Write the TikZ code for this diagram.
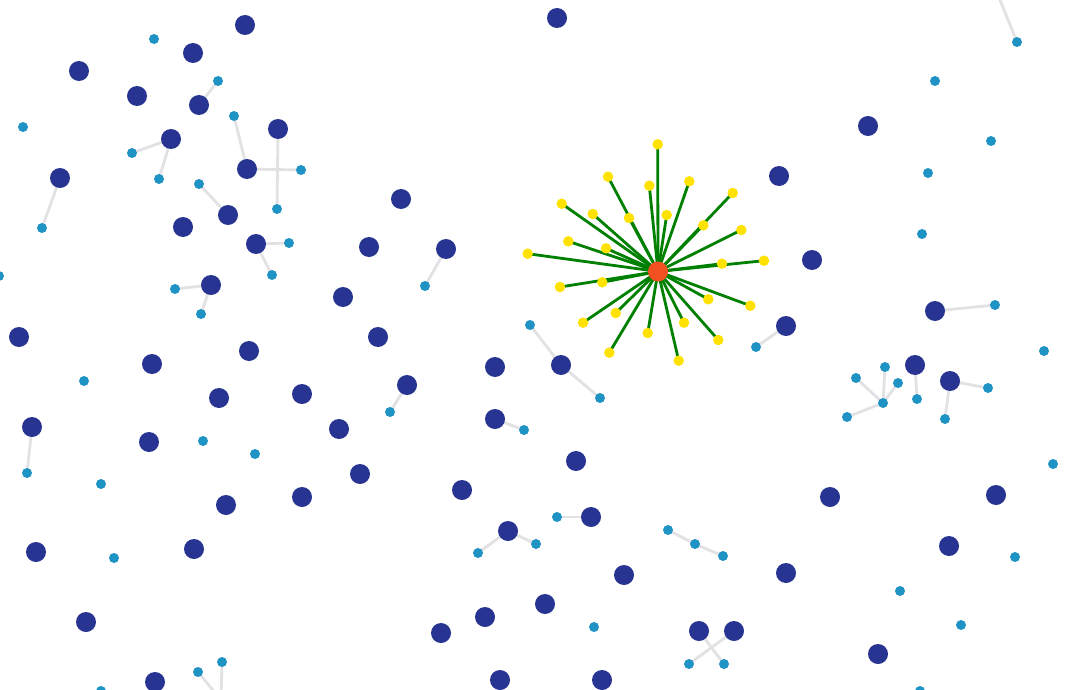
\documentclass[tikz,border=0pt]{standalone}
\usetikzlibrary{backgrounds}
\definecolor{navy}{RGB}{40,52,146}
\definecolor{sky}{RGB}{31,147,196}
\definecolor{sun}{RGB}{255,226,0}
\definecolor{hub}{RGB}{244,81,34}
\definecolor{link}{RGB}{226,226,229}
\definecolor{spoke}{RGB}{0,128,0}
\begin{document}
\begin{tikzpicture}[x=1pt,y=-1pt,
  dk/.style={circle,fill=navy,inner sep=0pt,minimum size=20pt},
  lt/.style={circle,fill=sky,inner sep=0pt,minimum size=10pt},
  yl/.style={circle,fill=sun,inner sep=0pt,minimum size=10.5pt},
  hb/.style={circle,fill=hub,inner sep=0pt,minimum size=20pt},
  gl/.style={draw=link,line width=2.8pt},
  sp/.style={draw=spoke,line width=2.8pt}]
\useasboundingbox (0,0) rectangle (1073,690);
% dark nodes
\foreach \n/\x/\y in {1/245/25,2/193/53,3/79/71,4/137/96,5/199/105,6/171/139,7/278/129,8/60/178,9/247/169,10/228/215,
  11/183/227,12/256/244,13/211/285,14/19/337,15/152/364,16/249/351,17/219/398,18/302/394,19/32/427,20/149/442,
  21/339/429,22/226/505,23/302/497,24/360/474,25/36/552,26/194/549,27/86/622,28/155/682,29/401/199,30/369/247,
  31/343/297,32/378/337,33/446/249,34/407/385,35/557/18,36/495/367,37/561/365,38/495/419,39/576/461,40/462/490,
  41/508/531,42/591/517,43/624/575,44/545/604,45/485/617,46/441/633,47/500/680,48/602/680,49/699/631,50/734/631,
  51/786/573,52/830/497,53/779/176,54/868/126,55/812/260,56/786/326,57/935/311,58/915/365,59/950/381,60/996/495,
  61/949/546,62/878/654}
  \node[dk] (d\n) at (\x,\y) {};
% light nodes
\foreach \n/\x/\y in {1/154/39,2/218/81,3/23/127,4/234/116,5/132/153,6/159/179,7/301/170,8/277/209,9/199/184,10/42/228,
  11/289/243,12/272/275,13/175/289,14/201/314,15/-1/276,16/84/381,17/203/441,18/255/454,19/27/473,20/101/484,
  21/114/558,22/222/662,23/198/672,24/101/691,25/425/286,26/390/412,27/530/325,28/600/398,29/524/430,30/557/517,
  31/478/553,32/536/544,33/668/530,34/695/544,35/723/556,36/594/627,37/689/664,38/724/664,39/1017/42,40/935/81,
  41/991/141,42/928/173,43/922/234,44/995/305,45/756/347,46/1044/351,47/917/399,48/988/388,49/945/419,50/885/367,
  51/856/378,52/898/383,53/883/403,54/847/417,55/1053/464,56/1015/557,57/900/591,58/961/625,59/920/691}
  \node[lt] (l\n) at (\x,\y) {};
% off-frame ends
\coordinate (o1) at (996,-10);
\coordinate (o2) at (221,700);
% star
\node[hb] (c) at (658,271.5) {};
\foreach \n/\x/\y in {1/657.7/144.3,2/608/176.7,3/649.3/185.7,4/689.3/181.3,5/732.7/193,6/561.7/203.7,7/592.7/214,
  8/629/218,9/666.7/215,10/703.3/225.3,11/741.3/230,12/568.3/241.3,13/606/248.3,14/527.7/253.7,15/764/260.7,
  16/722/263.7,17/560/287,18/602.3/282.3,19/708.3/299.3,20/750.3/305.7,21/615.7/313,22/583/322.7,23/684/322.7,
  24/647.7/333,25/718.3/340,26/609.3/352.7,27/678.7/360.7}
  \node[yl] (y\n) at (\x,\y) {};
\begin{pgfonlayer}{background}
  \fill[white] (0,0) rectangle (1073,690);
  \foreach \a/\b in {d5/l2,d9/l4,d7/l8,d9/l7,d6/l5,d6/l6,l9/d10,d8/l10,d12/l11,d12/l12,d13/l13,d13/l14,d19/l19,
    l23/o2,l22/o2,d33/l25,d34/l26,l27/d37,d37/l28,d38/l29,l30/d42,d41/l31,d41/l32,l33/l34,l34/l35,d49/l38,d50/l37,
    l39/o1,d57/l44,d56/l45,d58/l47,d59/l48,d59/l49,l53/l50,l53/l51,l53/l52,l53/l54}
    \path[gl] (\a.center) -- (\b.center);
  \foreach \n in {1,...,27}
    \path[sp] (c.center) -- (y\n.center);
\end{pgfonlayer}
\end{tikzpicture}
\end{document}
